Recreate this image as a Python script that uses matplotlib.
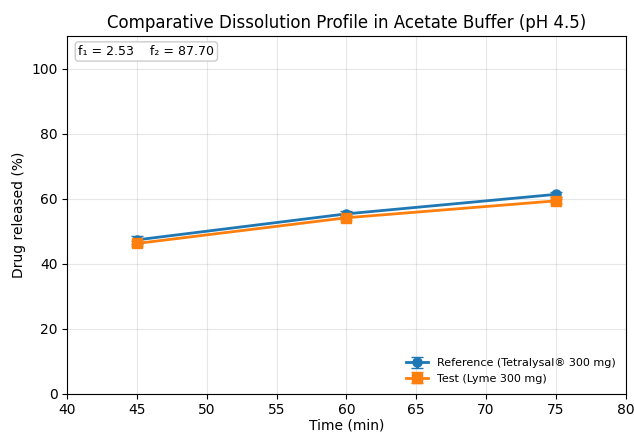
import numpy as np
import matplotlib.pyplot as plt

time_min = [45, 60, 75]
ref_mean = [47.3, 55.3, 61.3]
ref_sd = [1.2, 0.8, 0.7]
test_mean = [46.2, 54.1, 59.3]
test_sd = [0.9, 0.8, 0.7]
f1 = 2.53
f2 = 87.70

fig, ax = plt.subplots(figsize=(6.34, 4.34), dpi=100)
ax.errorbar(time_min, ref_mean, yerr=ref_sd, marker='o', markersize=6.5, capsize=4,
            linewidth=2, label='Reference (Tetralysal® 300 mg)')
ax.errorbar(time_min, test_mean, yerr=test_sd, marker='s', markersize=6.5, capsize=4,
            linewidth=2, label='Test (Lyme 300 mg)')
ax.set_xlim(40, 80)
ax.set_ylim(0, 110)
ax.set_title('Comparative Dissolution Profile in Acetate Buffer (pH 4.5)', fontsize=12)
ax.set_xlabel('Time (min)', labelpad=1)
ax.set_ylabel('Drug released (%)')
ax.grid(True, alpha=0.3)
ax.legend(loc='lower right', fontsize=8, frameon=False)
ax.text(0.02, 0.975, f'f\u2081 = {f1:.2f}    f\u2082 = {f2:.2f}', transform=ax.transAxes,
        va='top', ha='left', fontsize=9,
        bbox=dict(boxstyle='round,pad=0.25', facecolor='white', edgecolor='0.8'))
fig.subplots_adjust(left=0.106, right=0.987, top=0.917, bottom=0.093)
fig.savefig('out.png')
